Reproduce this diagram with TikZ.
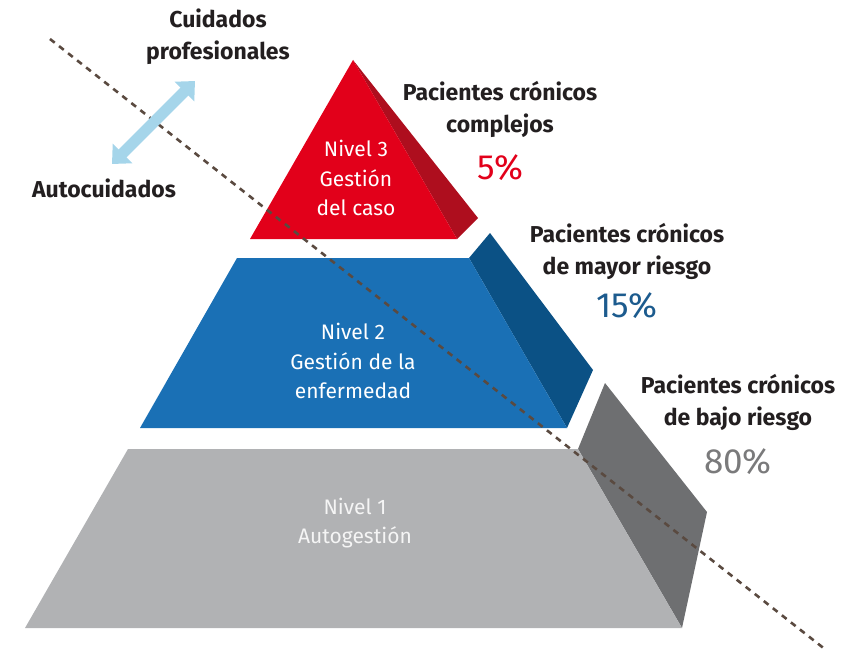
\documentclass[tikz,border=0pt]{standalone}
\usepackage{fontspec}
\setmainfont{Fira Sans}
\usetikzlibrary{arrows.meta}
\definecolor{redF}{HTML}{E2001A}
\definecolor{redS}{HTML}{AE0E1E}
\definecolor{blueF}{HTML}{1A70B5}
\definecolor{blueS}{HTML}{0B5185}
\definecolor{grayF}{HTML}{B1B2B4}
\definecolor{grayS}{HTML}{6E6F71}
\definecolor{blueP}{HTML}{1C5B8E}
\definecolor{grayP}{HTML}{7A7A7B}
\definecolor{txt}{HTML}{231F20}
\definecolor{dashc}{HTML}{5A4A40}
\definecolor{arrowc}{HTML}{A5D5EA}
\tikzset{
  lbl/.style={font=\fontsize{23}{32}\selectfont\bfseries, text=txt, align=center, inner sep=0pt},
  inlbl/.style={font=\fontsize{21}{29.5}\selectfont, text=white, align=center, inner sep=0pt},
  pct/.style={font=\fontsize{35}{36}\selectfont, inner sep=0pt},
}
\begin{document}
\begin{tikzpicture}[x=1pt,y=-1pt]
\useasboundingbox (0,0) rectangle (860,650);
% level 1
\fill[grayS] (578,449) -- (605,383) -- (707,512) -- (682,628) -- cycle;
\fill[grayF] (128,449) -- (578,449) -- (682,628) -- (25,628) -- cycle;
% level 2
\fill[blueS] (469,258) -- (490,233) -- (593,370) -- (567,428) -- cycle;
\fill[blueF] (237,258) -- (469,258) -- (567,428) -- (140,428) -- cycle;
% level 3
\fill[redS] (353,60) -- (478,218) -- (457,239) -- cycle;
\fill[redF] (353,60) -- (457,239) -- (250,239) -- cycle;
% dashed line
\coordinate (d1) at (50,39);
\coordinate (d2) at (826,650);
\draw[dashc, line width=2.6pt, dash pattern=on 6pt off 5.5pt] (d1) -- (d2);
% arrow
\coordinate (a1) at (112,164);
\coordinate (a2) at (195,81);
\draw[arrowc, line width=11pt, {Triangle[width=27pt,length=15pt]}-{Triangle[width=27pt,length=15pt]}] (a1) -- (a2);
% texts
\node[lbl] (cp) at (218,37) {Cuidados\\profesionales};
\node[lbl] (ac) at (104,188) {Autocuidados};
\node[inlbl] (n3) at (356,178) {Nivel 3\\Gestión\\del caso};
\node[inlbl] (n2) at (353,361) {Nivel 2\\Gestión de la\\enfermedad};
\node[inlbl, text=white!92!gray] (n1) at (355,523) {Nivel 1\\Autogestión};
\node[lbl] (p3) at (500,109) {Pacientes crónicos\\complejos};
\node[pct, text=redF] (v3) at (500,168) {5\%};
\node[lbl] (p2) at (627,251) {Pacientes crónicos\\de mayor riesgo};
\node[pct, text=blueP] (v2) at (627,306) {15\%};
\node[lbl] (p1) at (738,402) {Pacientes crónicos\\de bajo riesgo};
\node[pct, text=grayP] (v1) at (738,462) {80\%};
\end{tikzpicture}
\end{document}
